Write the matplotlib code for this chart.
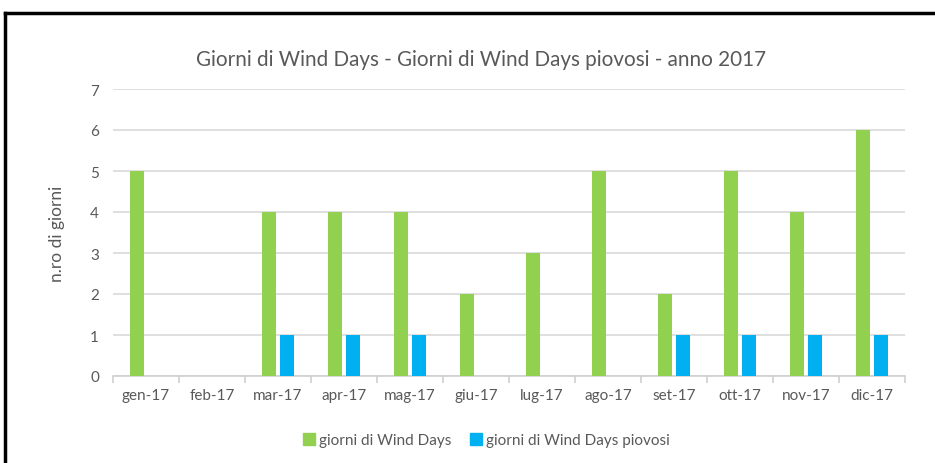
import matplotlib
matplotlib.use("Agg")
import matplotlib.pyplot as plt
import numpy as np
from matplotlib.lines import Line2D

months = ["gen-17", "feb-17", "mar-17", "apr-17", "mag-17", "giu-17",
          "lug-17", "ago-17", "set-17", "ott-17", "nov-17", "dic-17"]
wind_days = [5, 0, 4, 4, 4, 2, 3, 5, 2, 5, 4, 6]
wind_days_rain = [0, 0, 1, 1, 1, 0, 0, 0, 1, 1, 1, 1]
series_names = ["giorni di Wind Days", "giorni di Wind Days piovosi"]
title = "Giorni di Wind Days - Giorni di Wind Days piovosi - anno 2017"
ylabel = "n.ro di giorni"

plt.rcParams['font.family'] = ['Lato', 'DejaVu Sans']
green = "#92d050"
blue = "#00b0f0"
gray_txt = "#595959"

fig = plt.figure(figsize=(9.35, 4.64), dpi=100)
ax = fig.add_axes([113/935, 87/464, 792/935, 287/464])

x = np.arange(len(months))
w = 0.212
off = 0.136
ax.bar(x - off, wind_days, width=w, color=green, label=series_names[0], zorder=3)
ax.bar(x + off, wind_days_rain, width=w, color=blue, label=series_names[1], zorder=3)

ax.set_xlim(-0.5, len(months) - 0.5)
ax.set_ylim(0, 7)
ax.set_yticks(range(0, 8))
ax.yaxis.grid(True, color="#d9d9d9", linewidth=1.2, zorder=0)
for s in ["top", "right", "left"]:
    ax.spines[s].set_visible(False)
ax.spines["bottom"].set_color("#d0d0d0")
ax.spines["bottom"].set_linewidth(1.2)
ax.tick_params(axis="y", length=0, pad=10, labelsize=11, labelcolor=gray_txt)
ax.set_xticks(x)
ax.set_xticklabels(months)
ax.tick_params(axis="x", length=0, pad=9, labelsize=11, labelcolor=gray_txt)
ax.set_xticks(np.arange(-0.5, len(months)), minor=True)
ax.tick_params(axis="x", which="minor", length=5, width=1.2, color="#d0d0d0")
ax.set_ylabel(ylabel, fontsize=12.5, color=gray_txt, labelpad=18)

fig.text(481/935, 1 - 60/464, title, ha="center", va="center", fontsize=14.9, color=gray_txt)

handles = [Line2D([], [], marker="s", linestyle="", markersize=8, color=green),
           Line2D([], [], marker="s", linestyle="", markersize=8, color=blue)]
fig.legend(handles, series_names, loc="center", bbox_to_anchor=(486/935, 1 - 441/464),
           ncol=2, frameon=False, fontsize=11, labelcolor=gray_txt,
           handletextpad=0.2, columnspacing=1.2, handlelength=0.9)

# outer frame
fig.add_artist(Line2D([5/935, 1], [1 - 14/464, 1 - 14/464], transform=fig.transFigure, color="black", linewidth=2.5))
fig.add_artist(Line2D([5/935, 5/935], [0, 1 - 14/464], transform=fig.transFigure, color="black", linewidth=2.5))

fig.savefig("out.png", dpi=100)
